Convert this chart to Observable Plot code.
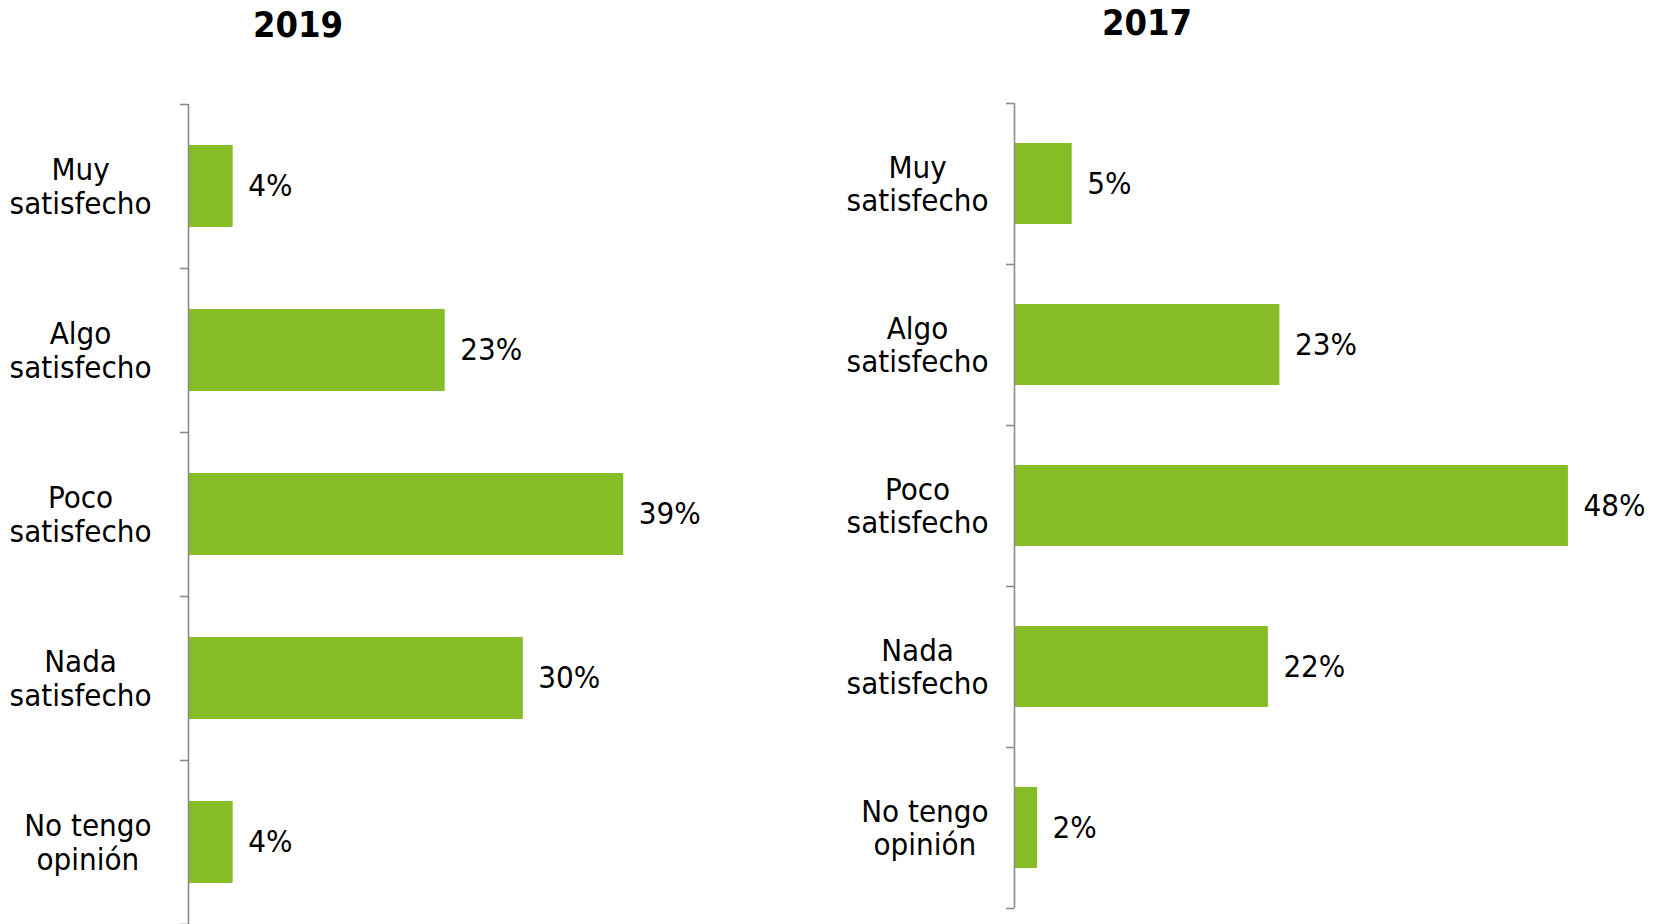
<!DOCTYPE html>
<html>
<head>
<meta charset="utf-8">
<script src="https://cdn.jsdelivr.net/npm/d3@7"></script>
<script src="https://cdn.jsdelivr.net/npm/@observablehq/plot@0.6"></script>
<style>
  html, body { margin: 0; padding: 0; background: #fff; }
  #wrap { position: relative; width: 1653px; height: 924px; overflow: hidden; background: #fff;
          font-family: "DejaVu Sans Condensed", "DejaVu Sans", sans-serif; font-stretch: condensed; }
  .title { position: absolute; width: 200px; text-align: center; font-size: 36px; font-weight: bold;
           line-height: 40px; color: #000; }
  .panel { position: absolute; top: 0; }
  .panel svg { overflow: visible; }
</style>
</head>
<body>
<div id="wrap"></div>
<script>
// ---- data ----
const categories = ["Muy satisfecho", "Algo satisfecho", "Poco satisfecho", "Nada satisfecho", "No tengo opinión"];
const categoryLabels = ["Muy\nsatisfecho", "Algo\nsatisfecho", "Poco\nsatisfecho", "Nada\nsatisfecho", "No tengo\nopinión"];
const years = ["2019", "2017"];
const values2019 = [4, 23, 39, 30, 4];
const values2017 = [5, 23, 48, 22, 2];

const GREEN = "#86bc25";
const AXIS = "#8c8c8c";
const FONT = '"DejaVu Sans Condensed", "DejaVu Sans", sans-serif';
const FS = 31;

const ctx = document.createElement("canvas").getContext("2d");
ctx.font = `${FS}px ${FONT}`;
function blockWidth(s) { return Math.max(...s.split("\n").map(l => ctx.measureText(l).width)); }

function panel({values, width, height, marginLeft, marginRight, marginTop, marginBottom, xMax, labelGap}) {
  const data = categories.map((c, i) => ({cat: c, label: categoryLabels[i], value: values[i]}));
  const step = (height - marginTop - marginBottom) / categories.length;
  const pxPerUnit = (width - marginLeft - marginRight) / xMax;
  const tickLen = 8 / pxPerUnit;
  const labelMarks = data.map(d => Plot.text([d], {
    y: "cat", frameAnchor: "left", text: "label", textAnchor: "middle",
    dx: -(labelGap + blockWidth(d.label) / 2), lineHeight: 1.08, fontSize: FS, fill: "#000"
  }));
  return Plot.plot({
    width, height, marginLeft, marginRight, marginTop, marginBottom,
    style: {fontFamily: FONT, fontStretch: "condensed", fontSize: FS + "px", background: "transparent", color: "#000"},
    x: {domain: [0, xMax], axis: null},
    y: {domain: categories, axis: null, paddingInner: 0.5, paddingOuter: 0.25},
    marks: [
      Plot.barX(data, {x: "value", y: "cat", fill: GREEN}),
      Plot.ruleX([0], {stroke: AXIS, strokeWidth: 1.6}),
      Plot.ruleY(data, {y: "cat", x1: -tickLen, x2: 0, dy: -step / 2, stroke: AXIS, strokeWidth: 1.6}),
      Plot.ruleY(data.slice(-1), {y: "cat", x1: -tickLen, x2: 0, dy: step / 2, stroke: AXIS, strokeWidth: 1.6}),
      Plot.text(data, {x: "value", y: "cat", text: d => d.value + "%", dx: 15, textAnchor: "start", fontSize: FS, fill: "#000"}),
      ...labelMarks
    ]
  });
}

const wrap = document.getElementById("wrap");

const p1 = document.createElement("div");
p1.className = "panel"; p1.style.left = "0px";
p1.appendChild(panel({values: values2019, width: 800, height: 924, marginLeft: 188, marginRight: 54,
  marginTop: 104, marginBottom: 0, xMax: 50, labelGap: 37}));
wrap.appendChild(p1);

const p2 = document.createElement("div");
p2.className = "panel"; p2.style.left = "800px";
p2.appendChild(panel({values: values2017, width: 853, height: 924, marginLeft: 214, marginRight: 62,
  marginTop: 103, marginBottom: 16, xMax: 50, labelGap: 26}));
wrap.appendChild(p2);

const t1 = document.createElement("div");
t1.className = "title"; t1.textContent = years[0];
t1.style.left = (298 - 100) + "px"; t1.style.top = "5px";
wrap.appendChild(t1);

const t2 = document.createElement("div");
t2.className = "title"; t2.textContent = years[1];
t2.style.left = (1147 - 100) + "px"; t2.style.top = "3px";
wrap.appendChild(t2);
</script>
</body>
</html>
